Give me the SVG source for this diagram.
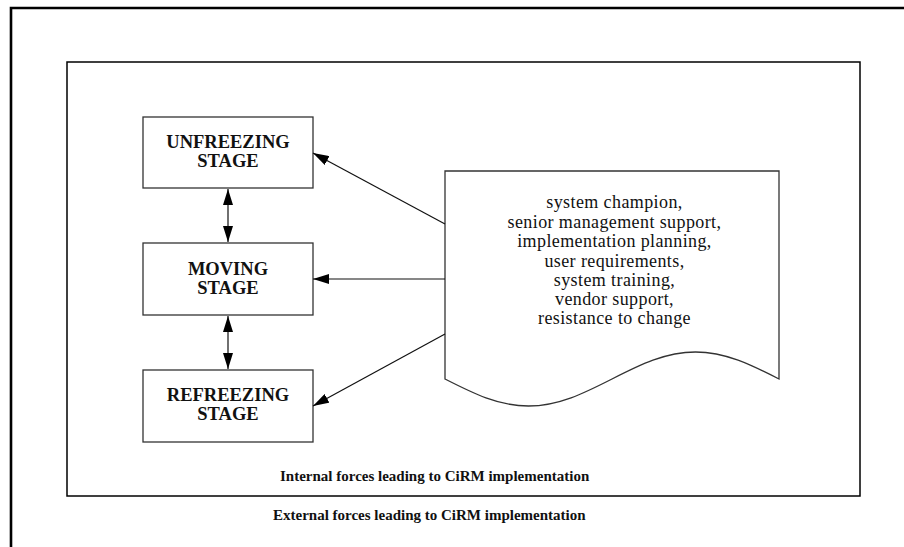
<svg xmlns="http://www.w3.org/2000/svg" width="904" height="547" viewBox="0 0 904 547">
  <style>
    .frame { fill: none; stroke: #000; }
    .box { fill: #fff; stroke: #333; stroke-width: 1.3; }
    .stage { font-family: "Liberation Serif", "Times New Roman", serif; font-weight: bold; font-size: 18.5px; fill: #111; text-anchor: middle; }
    .body { font-family: "Liberation Serif", "Times New Roman", serif; font-size: 18px; letter-spacing: 0.4px; fill: #111; text-anchor: middle; }
    .caption { font-family: "Liberation Serif", "Times New Roman", serif; font-weight: bold; font-size: 15px; fill: #111; }
    .conn { fill: none; stroke: #111; stroke-width: 1.2; }
  </style>
  <defs>
    <marker id="head" viewBox="0 0 16 10" refX="16" refY="5" markerWidth="16" markerHeight="10" markerUnits="userSpaceOnUse" orient="auto-start-reverse">
      <path d="M0,0 L16,5 L0,10 Z" fill="#000"/>
    </marker>
  </defs>

  <rect width="904" height="547" fill="#fff"/>

  <!-- outer environment frame (runs off the right and bottom edges) -->
  <path class="frame" d="M11,560 V8 H920" stroke-width="2.6"/>
  <!-- inner organisation frame -->
  <rect class="frame" x="67" y="62" width="793" height="434" stroke-width="1.5" stroke="#222"/>

  <g id="unfreezing">
    <rect class="box" x="143" y="117" width="170" height="71"/>
    <text class="stage" x="228" y="148">UNFREEZING</text>
    <text class="stage" x="228" y="167">STAGE</text>
  </g>

  <g id="moving">
    <rect class="box" x="143" y="243" width="170" height="72"/>
    <text class="stage" x="228" y="275">MOVING</text>
    <text class="stage" x="228" y="294">STAGE</text>
  </g>

  <g id="refreezing">
    <rect class="box" x="143" y="370" width="170" height="72"/>
    <text class="stage" x="228" y="401">REFREEZING</text>
    <text class="stage" x="228" y="420">STAGE</text>
  </g>

  <g id="factors">
    <!-- document shape: flat top, one full wave along the bottom -->
    <path class="box" d="M445,171 H779 V379 C751.1,364.8 725.6,352 695.5,352 C665.4,352 639.9,364.8 612,379 C584.1,393.2 558.6,406 528.5,406 C498.4,406 472.9,393.2 445,379 Z"/>
    <text class="body" x="614.5" y="208">system champion,</text>
    <text class="body" x="614.5" y="228">senior management support,</text>
    <text class="body" x="614.5" y="247">implementation planning,</text>
    <text class="body" x="614.5" y="266.5">user requirements,</text>
    <text class="body" x="614.5" y="286">system training,</text>
    <text class="body" x="614.5" y="305">vendor support,</text>
    <text class="body" x="614.5" y="324">resistance to change</text>
  </g>

  <g id="connectors">
    <line class="conn" x1="228" y1="189" x2="228" y2="242" marker-start="url(#head)" marker-end="url(#head)"/>
    <line class="conn" x1="228" y1="316" x2="228" y2="369" marker-start="url(#head)" marker-end="url(#head)"/>
    <line class="conn" x1="445" y1="224" x2="313" y2="153" marker-end="url(#head)"/>
    <line class="conn" x1="445" y1="279" x2="313" y2="279" marker-end="url(#head)"/>
    <line class="conn" x1="445" y1="334" x2="313" y2="406" marker-end="url(#head)"/>
  </g>

  <g id="captions">
    <text class="caption" x="280" y="481" font-size="16px">Internal forces leading to CiRM implementation</text>
    <text class="caption" x="273" y="520">External forces leading to CiRM implementation</text>
  </g>
</svg>
